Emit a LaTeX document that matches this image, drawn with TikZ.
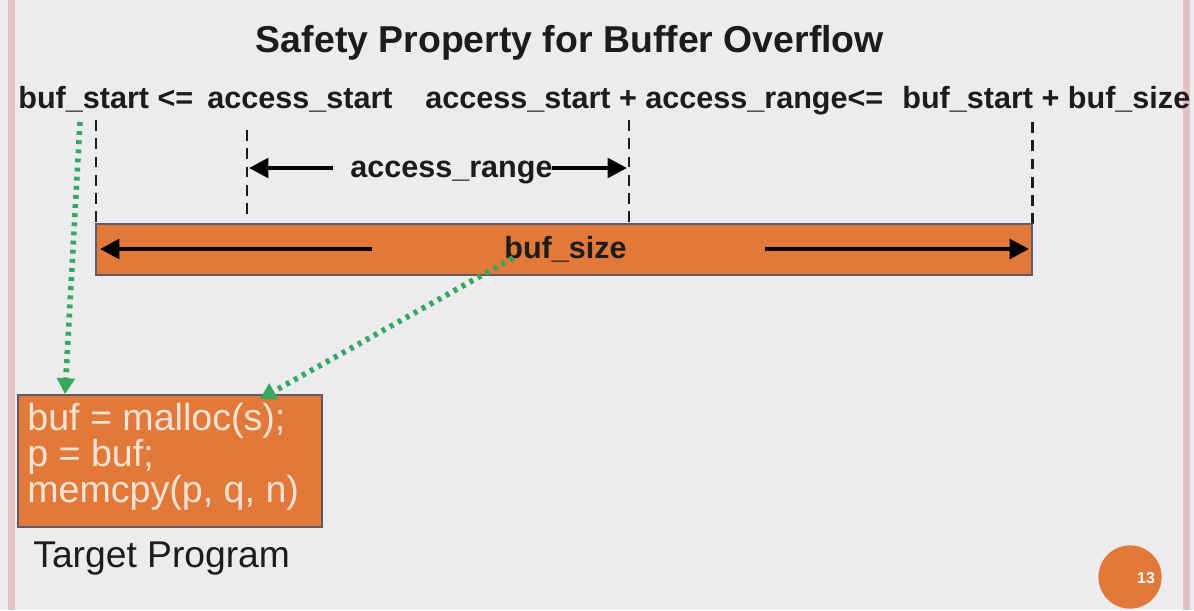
\documentclass[tikz,border=0pt]{standalone}
\usepackage{fontspec}
\setmainfont{Liberation Sans}
\usetikzlibrary{arrows.meta}
\definecolor{slidebg}{RGB}{236,236,238}
\definecolor{barorange}{RGB}{226,121,58}
\definecolor{barline}{RGB}{95,90,100}
\definecolor{codetext}{RGB}{252,228,212}
\definecolor{dotgreen}{RGB}{52,168,92}
\definecolor{edgepink}{RGB}{226,192,196}
\definecolor{inktext}{RGB}{28,28,30}
\newcommand{\codefont}{\fontsize{21.4}{20.5}\selectfont\lineskiplimit=-20pt\relax}

\begin{document}
\begin{tikzpicture}
[
x=0.02cm, y=-0.02cm,
every node/.style={inner sep=0pt, text=inktext, font=\fontsize{17.4}{20}\selectfont\bfseries},
guide/.style={inktext, line width=1.7pt, dash pattern=on 6.2pt off 4.2pt},
span/.style={line width=2.4pt, -{Triangle[length=11pt, width=11pt]}},
pointer/.style={dotgreen, line width=3.2pt, dash pattern=on 2.2pt off 3pt, -{Triangle[length=9pt, width=10pt]}},
orangebox/.style={draw=barline, line width=1.2pt, fill=barorange}
]

\fill[slidebg] (0,0) rectangle (1194,610);
\fill[edgepink] (8,0) rectangle (15,610);
\fill[edgepink] (1183,0) rectangle (1190,610);
\useasboundingbox (0,0) rectangle (1194,610);

\node[anchor=base, font=\fontsize{21.3}{24}\selectfont\bfseries] (title) at (570,52) {Safety Property for Buffer Overflow};

\node[anchor=base west] (lo) at (18,108) {buf\_start <=};
\node[anchor=base west] (as) at (207,108) {access\_start};
\node[anchor=base west] (ae) at (425,108) {access\_start + access\_range<=};
\node[anchor=base west] (hi) at (902,108) {buf\_start + buf\_size};

\draw[guide] (96,120) -- (96,222);
\draw[guide] (247,130) -- (247,220);
\draw[guide] (629,120) -- (629,222);
\draw[guide] (1032,122) -- (1032,224);

\node[anchor=base west] (range) at (350,177) {access\_range};
\coordinate (rangeL) at (249,168);
\coordinate (rangeR) at (627,168);
\draw[span] (333,168) -- (rangeL);
\draw[span] (552,168) -- (rangeR);

\draw[orangebox] (96,224) rectangle (1032,275);
\coordinate (sizeL) at (100,249);
\coordinate (sizeR) at (1029,249);
\draw[span] (372,249) -- (sizeL);
\draw[span] (765,249) -- (sizeR);
\node[anchor=base west] (size) at (504,258) {buf\_size};

\draw[orangebox] (18,395) rectangle (322,527);
\node[anchor=north west, align=left, text=codetext, font=\codefont] (prog) at (27,403)
  {buf = malloc(s);\\ p = buf;\\ memcpy(p, q, n)};
\node[anchor=base west, font=\fontsize{21.2}{24}\selectfont] (target) at (33,567) {Target Program};

\coordinate (startref) at (80,122);
\coordinate (startuse) at (65,394);
\coordinate (sizeref) at (513,258);
\coordinate (sizeuse) at (260,399);
\draw[pointer] (startref) -- (startuse);
\draw[pointer] (sizeref) -- (sizeuse);

\node[circle, fill=barorange, minimum size=36pt] (page) at (1130,577) {};
\node[text=white, font=\fontsize{9}{10}\selectfont\bfseries] (pagenum) at (1146,578) {13};
\end{tikzpicture}
\end{document}
